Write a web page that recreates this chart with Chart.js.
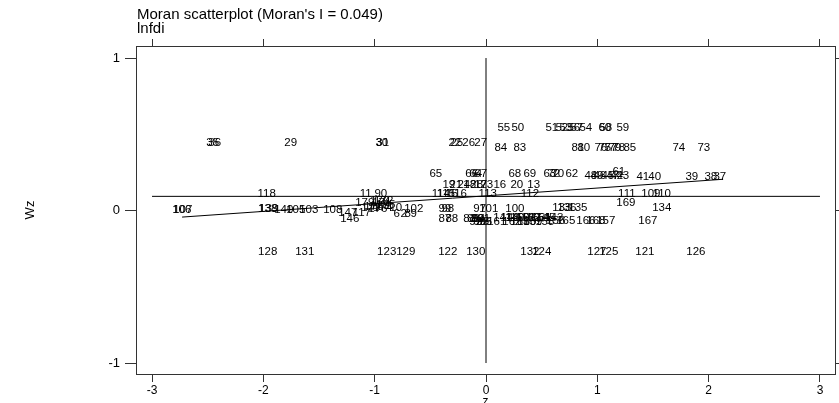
<!DOCTYPE html>
<html>
<head>
<meta charset="utf-8">
<script src="https://cdn.jsdelivr.net/npm/chart.js@4.4.0/dist/chart.umd.min.js"></script>
<style>
  html, body { margin: 0; padding: 0; background: #fff; }
  #wrap { width: 839px; height: 403px; }
</style>
</head>
<body>
<div id="wrap"><canvas id="moranChart"></canvas></div>
<script>
const titleText = "Moran scatterplot (Moran's I = 0.049)";
const varName = 'lnfdi';
const xAxisName = 'z';
const yAxisName = 'Wz';

const xTicks = [-3, -2, -1, 0, 1, 2, 3];
const yTicks = [-1, 0, 1];
const xRange = [-3.144, 3.135];
const yRange = [-1.072, 1.079];

const obsIds = [
  '35', '36', '29', '30', '31', '22', '25', '26', '27',
  '55', '50', '51', '52', '53', '56', '57', '54', '60', '58', '59',
  '84', '83', '81', '80', '76', '75', '77', '79', '78', '85', '74', '73',
  '65', '66', '64', '67', '68', '69', '63', '72', '70', '62',
  '48', '49', '46', '45', '47', '42', '43', '61', '41', '40', '39', '38', '37',
  '19', '21', '24', '18', '28', '17', '23', '16', '20', '13',
  '118', '11', '90', '114', '115', '15', '116', '113', '112', '111', '109', '110',
  '179', '170', '171', '172', '173', '174', '175', '176', '177', '178',
  '10', '102', '6', '2', '8', '9', '147', '117', '146',
  '106', '107', '138', '139', '140', '105', '103', '108',
  '99', '98', '87', '88', '97', '101', '100', '133', '136', '135',
  '82', '86', '89', '94', '91', '92', '96', '93', '95',
  '141', '148', '149', '150', '151', '152', '153', '154', '145', '143',
  '161', '162', '163', '160', '159', '158', '156', '165', '166', '168', '157',
  '169', '134', '167',
  '128', '131', '123', '129', '122', '130', '132', '124', '127', '125', '121', '126'
];
const zValues = [
  -2.455, -2.437, -1.754, -0.936, -0.928, -0.280, -0.262, -0.155, -0.047,
  0.160, 0.286, 0.591, 0.681, 0.717, 0.789, 0.816, 0.897, 1.067, 1.076, 1.229,
  0.133, 0.304, 0.825, 0.879, 1.031, 1.067, 1.121, 1.157, 1.193, 1.292, 1.732, 1.957,
  -0.451, -0.128, -0.092, -0.047, 0.259, 0.394, 0.573, 0.609, 0.645, 0.771,
  0.942, 0.996, 1.022, 1.094, 1.139, 1.175, 1.229, 1.193, 1.409, 1.516, 1.849, 2.020, 2.100,
  -0.334, -0.271, -0.199, -0.146, -0.083, -0.047, 0.007, 0.124, 0.277, 0.429,
  -1.970, -1.080, -0.945, -0.406, -0.361, -0.307, -0.253, 0.016, 0.394, 1.265, 1.481, 1.579,
  -1.089, -0.954, -0.936, -0.919, -0.954, -0.928, -0.901, -0.972, -1.035, -1.008,
  -0.810, -0.649, -0.802, -0.739, -0.703, -0.649, -1.242, -1.116, -1.224,
  -2.733, -2.724, -1.961, -1.952, -1.817, -1.709, -1.592, -1.376,
  -0.370, -0.343, -0.370, -0.307, -0.056, 0.025, 0.259, 0.681, 0.726, 0.825,
  -0.146, -0.110, -0.074, -0.065, -0.020, -0.092, -0.056, -0.029, -0.002,
  0.151, 0.214, 0.259, 0.304, 0.358, 0.403, 0.447, 0.492, 0.537, 0.609,
  0.097, 0.232, 0.304, 0.367, 0.420, 0.528, 0.627, 0.717, 0.897, 0.987, 1.076,
  1.256, 1.579, 1.454,
  -1.961, -1.628, -0.892, -0.721, -0.343, -0.092, 0.394, 0.501, 0.996, 1.103, 1.427, 1.885
];
const wzValues = [
  0.445, 0.445, 0.445, 0.445, 0.445, 0.445, 0.445, 0.445, 0.445,
  0.544, 0.544, 0.541, 0.541, 0.541, 0.541, 0.541, 0.541, 0.541, 0.541, 0.541,
  0.413, 0.413, 0.413, 0.413, 0.413, 0.413, 0.413, 0.413, 0.413, 0.413, 0.413, 0.413,
  0.243, 0.243, 0.243, 0.243, 0.243, 0.243, 0.243, 0.243, 0.243, 0.243,
  0.226, 0.226, 0.226, 0.226, 0.226, 0.226, 0.226, 0.256, 0.223, 0.223, 0.220, 0.220, 0.220,
  0.167, 0.167, 0.167, 0.167, 0.167, 0.167, 0.167, 0.167, 0.167, 0.167,
  0.108, 0.108, 0.108, 0.108, 0.108, 0.108, 0.108, 0.112, 0.108, 0.108, 0.108, 0.108,
  0.049, 0.062, 0.049, 0.062, 0.030, 0.016, 0.036, 0.010, 0.016, 0.023,
  0.016, 0.013, -0.023, -0.023, -0.023, -0.023, -0.016, -0.016, -0.056,
  0.003, 0.003, 0.010, 0.010, 0.003, 0.003, 0.003, 0.003,
  0.010, 0.010, -0.056, -0.056, 0.010, 0.010, 0.010, 0.016, 0.016, 0.016,
  -0.056, -0.056, -0.056, -0.056, -0.056, -0.075, -0.075, -0.075, -0.075,
  -0.049, -0.049, -0.049, -0.049, -0.049, -0.049, -0.049, -0.049, -0.049, -0.049,
  -0.075, -0.075, -0.075, -0.075, -0.075, -0.075, -0.069, -0.069, -0.069, -0.069, -0.069,
  0.049, 0.016, -0.069,
  -0.272, -0.272, -0.272, -0.272, -0.272, -0.272, -0.272, -0.272, -0.272, -0.272, -0.272, -0.272
];

// reference lines: z = 0, mean of Wz, and the fitted line
const vLineZ = [0, 0];
const vLineWz = [-1, 1];
const hLineZ = [-3, 3];
const hLineWz = [0.093, 0.093];
const fitZ = [-2.73, 2.13];
const fitWz = [-0.043, 0.205];

const FONT = '"Liberation Sans", Arial, Helvetica, sans-serif';

function pairs(xs, ys) {
  return xs.map((x, i) => ({ x: x, y: ys[i] }));
}

function lineSet(xs, ys) {
  return {
    data: pairs(xs, ys),
    showLine: true,
    borderColor: '#000',
    borderWidth: 1,
    pointRadius: 0,
    fill: false
  };
}

function fixTicks(values) {
  return scale => { scale.ticks = values.map(v => ({ value: v })); };
}

// draws the observation ids at their points, and the titles
const labelPlugin = {
  id: 'obsLabels',
  afterDatasetsDraw(chart) {
    const ctx = chart.ctx;
    const meta = chart.getDatasetMeta(0);
    ctx.save();
    ctx.font = '11.5px ' + FONT;
    ctx.fillStyle = '#000';
    ctx.textAlign = 'center';
    ctx.textBaseline = 'middle';
    meta.data.forEach((pt, i) => {
      ctx.fillText(obsIds[i], pt.x, pt.y);
    });
    ctx.restore();
  },
  afterDraw(chart) {
    const ctx = chart.ctx;
    const area = chart.chartArea;
    ctx.save();
    ctx.fillStyle = '#000';
    ctx.font = '15px ' + FONT;
    ctx.textAlign = 'left';
    ctx.textBaseline = 'middle';
    ctx.fillText(titleText, area.left + 1, 15);
    ctx.fillText(varName, area.left + 1, 29);

    ctx.font = '12px ' + FONT;
    ctx.textAlign = 'center';
    ctx.textBaseline = 'top';
    ctx.fillText(xAxisName, (area.left + area.right) / 2, 396);

    ctx.font = '13px ' + FONT;
    ctx.translate(30, (area.top + area.bottom) / 2);
    ctx.rotate(-Math.PI / 2);
    ctx.textBaseline = 'middle';
    ctx.fillText(yAxisName, 0, 0);
    ctx.restore();
  }
};

const axisGrid = len => ({ drawOnChartArea: false, drawTicks: true, tickLength: len, color: '#333', lineWidth: 1 });
const axisBorder = { color: '#333', width: 1 };

new Chart(document.getElementById('moranChart'), {
  type: 'scatter',
  data: {
    datasets: [
      { data: pairs(zValues, wzValues), pointRadius: 0, pointHoverRadius: 0 },
      lineSet(vLineZ, vLineWz),
      lineSet(hLineZ, hLineWz),
      lineSet(fitZ, fitWz)
    ]
  },
  options: {
    responsive: true,
    maintainAspectRatio: false,
    animation: false,
    layout: { padding: 0 },
    plugins: { legend: { display: false }, tooltip: { enabled: false }, title: { display: false } },
    scales: {
      x: {
        type: 'linear', position: 'bottom', min: xRange[0], max: xRange[1],
        afterBuildTicks: fixTicks(xTicks),
        afterFit: s => { s.height = 29; },
        grid: axisGrid(8), border: axisBorder,
        ticks: { color: '#000', font: { family: FONT, size: 12 }, padding: 1, maxRotation: 0, autoSkip: false, callback: v => String(v) }
      },
      xTop: {
        type: 'linear', position: 'top', min: xRange[0], max: xRange[1],
        afterBuildTicks: fixTicks(xTicks),
        afterFit: s => { s.height = 46; },
        grid: axisGrid(7), border: axisBorder,
        ticks: { display: false }
      },
      y: {
        type: 'linear', position: 'left', min: yRange[0], max: yRange[1],
        afterBuildTicks: fixTicks(yTicks),
        afterFit: s => { s.width = 136; },
        grid: axisGrid(11), border: axisBorder,
        ticks: { color: '#000', font: { family: FONT, size: 13 }, padding: 5, callback: v => String(v) }
      },
      yRight: {
        type: 'linear', position: 'right', min: yRange[0], max: yRange[1],
        afterBuildTicks: fixTicks(yTicks),
        afterFit: s => { s.width = 4; },
        grid: axisGrid(4), border: axisBorder,
        ticks: { display: false }
      }
    }
  },
  plugins: [labelPlugin]
});
</script>
</body>
</html>
